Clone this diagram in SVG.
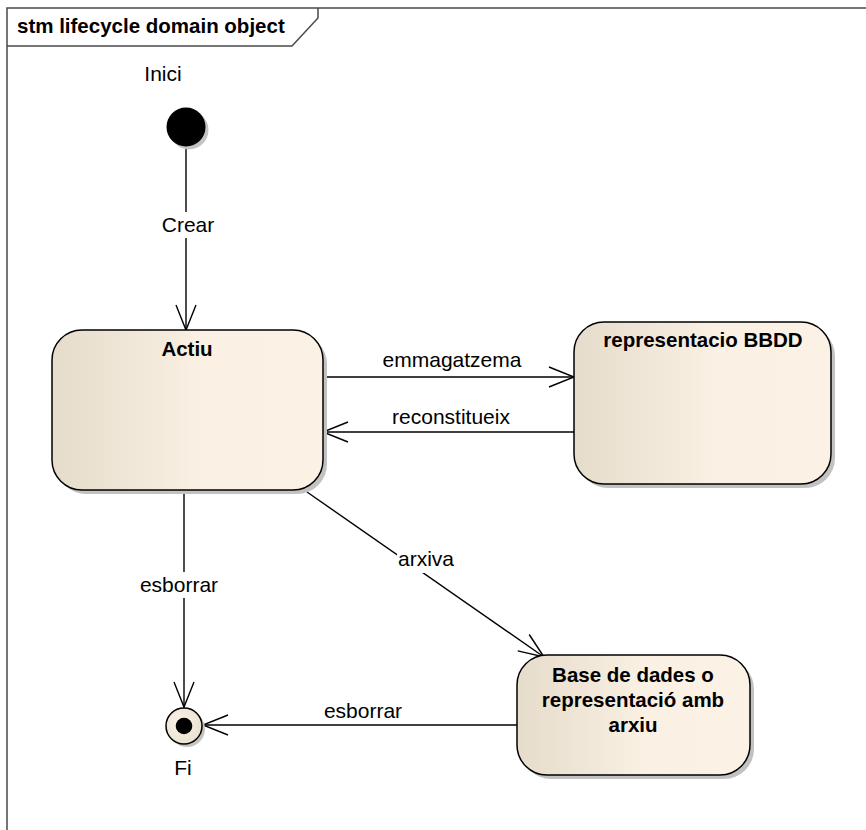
<svg xmlns="http://www.w3.org/2000/svg" width="866" height="830" viewBox="0 0 866 830">
  <defs>
    <linearGradient id="stateFill" x1="0" y1="0" x2="1" y2="0">
      <stop offset="0" stop-color="#e6dccb"/>
      <stop offset="0.55" stop-color="#faf0e3"/>
      <stop offset="1" stop-color="#fbf1e4"/>
    </linearGradient>
    <radialGradient id="finalFill" cx="0.4" cy="0.4" r="0.7">
      <stop offset="0" stop-color="#fbf3e6"/>
      <stop offset="1" stop-color="#e8dfcf"/>
    </radialGradient>
    <marker id="openArrow" viewBox="0 0 28 22" refX="26" refY="11" markerWidth="28" markerHeight="22" markerUnits="userSpaceOnUse" orient="auto">
      <path d="M1,1 L26,11 L1,21" fill="none" stroke="#000" stroke-width="1.4"/>
    </marker>
  </defs>
  <style>
    .frame { fill: none; stroke: #4a4a4a; stroke-width: 1.5; }
    .state { fill: url(#stateFill); stroke: #000; stroke-width: 1.5; }
    .shadow { fill: #c2c2c2; }
    .title { font-family: "Liberation Sans", Arial, sans-serif; font-size: 20.5px; font-weight: bold; fill: #000; }
    .name { font-family: "Liberation Sans", Arial, sans-serif; font-size: 20.5px; font-weight: bold; fill: #000; text-anchor: middle; }
    .label { font-family: "Liberation Sans", Arial, sans-serif; font-size: 21px; fill: #000; text-anchor: middle; }
    .edge { fill: none; stroke: #000; stroke-width: 1.4; marker-end: url(#openArrow); }
    .halo { fill: #fff; }
  </style>

  <rect width="866" height="830" fill="#fff"/>

  <!-- diagram frame with its name tab -->
  <g id="frame">
    <path class="frame" d="M7,830 V8 H866"/>
    <path class="frame" d="M7,46 H292 L318,18 V8"/>
    <text class="title" x="17" y="33">stm lifecycle domain object</text>
  </g>

  <!-- transitions -->
  <g id="connectors">
    <line class="edge" x1="186" y1="147" x2="186" y2="330"/>
    <rect class="halo" x="158" y="212" width="58" height="26"/>
    <text class="label" x="188" y="232">Crear</text>

    <line class="edge" x1="323" y1="377" x2="574" y2="377"/>
    <text class="label" x="452" y="367">emmagatzema</text>

    <line class="edge" x1="574" y1="432" x2="323" y2="432"/>
    <text class="label" x="451" y="424">reconstitueix</text>

    <line class="edge" x1="184" y1="491" x2="184" y2="707"/>
    <rect class="halo" x="134" y="572" width="90" height="26"/>
    <text class="label" x="179" y="592">esborrar</text>

    <line class="edge" x1="307" y1="492" x2="544" y2="657"/>
    <rect class="halo" x="397" y="547" width="58" height="26"/>
    <text class="label" x="426" y="566">arxiva</text>

    <line class="edge" x1="517" y1="725" x2="203" y2="725"/>
    <text class="label" x="363" y="718">esborrar</text>
  </g>

  <!-- initial pseudo-state -->
  <g id="inici">
    <circle cx="189" cy="130" r="19.5" fill="#c4c4c4"/>
    <circle cx="186" cy="127" r="19.5" fill="#000"/>
    <text class="label" x="163" y="81">Inici</text>
  </g>

  <!-- state: Actiu -->
  <g id="actiu">
    <rect class="shadow" x="56" y="334" width="271" height="160" rx="30"/>
    <rect class="state" x="52" y="330" width="271" height="160" rx="30"/>
    <text class="name" x="187" y="356">Actiu</text>
  </g>

  <!-- state: representacio BBDD -->
  <g id="representacio-bbdd">
    <rect class="shadow" x="578" y="326" width="257" height="162" rx="30"/>
    <rect class="state" x="574" y="322" width="257" height="162" rx="30"/>
    <text class="name" x="703" y="347">representacio BBDD</text>
  </g>

  <!-- state: Base de dades o representació amb arxiu -->
  <g id="base-de-dades">
    <rect class="shadow" x="521" y="659" width="233" height="120" rx="30"/>
    <rect class="state" x="517" y="655" width="233" height="120" rx="30"/>
    <text class="name" x="633" y="682">Base de dades o</text>
    <text class="name" x="633" y="707">representació amb</text>
    <text class="name" x="633" y="732">arxiu</text>
  </g>

  <!-- final state -->
  <g id="fi">
    <circle cx="187" cy="729" r="18" fill="#c4c4c4"/>
    <circle cx="184" cy="726" r="18" fill="url(#finalFill)" stroke="#000" stroke-width="1.5"/>
    <circle cx="184" cy="726" r="8.3" fill="#000"/>
    <text class="label" x="183" y="775">Fi</text>
  </g>
</svg>
